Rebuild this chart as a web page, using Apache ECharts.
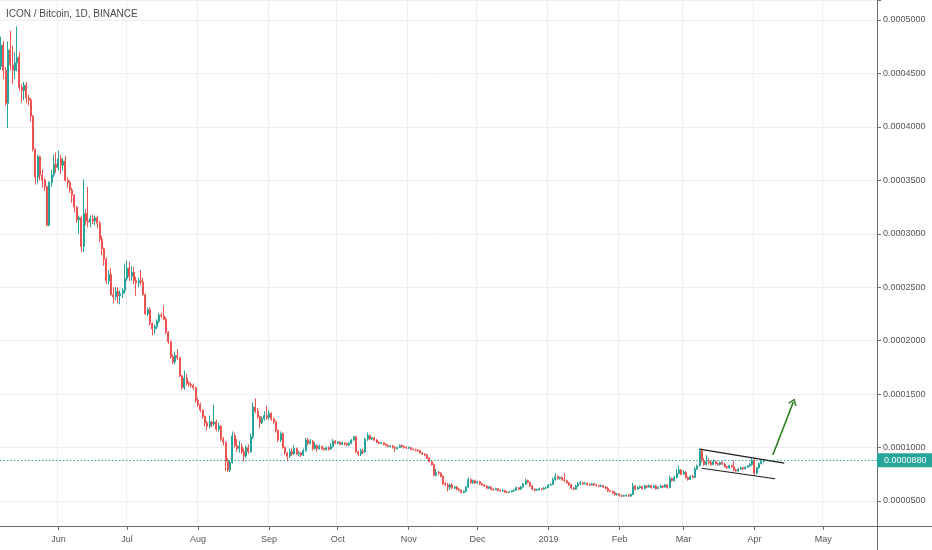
<!DOCTYPE html>
<html><head><meta charset="utf-8">
<script src="https://cdn.jsdelivr.net/npm/echarts@6/dist/echarts.min.js"></script>
<style>html,body{margin:0;padding:0;background:#fff}#c{width:932px;height:550px}</style>
</head><body><div id="c"></div>
<script>
// Prices in units of 0.0000001 BTC
const title = 'ICON / Bitcoin, 1D, BINANCE';
const firstDay = '2018-05-07';
const dayCount = 383; // axis runs to 2019-05-24
const monthNames = ['Jan','Feb','Mar','Apr','May','Jun','Jul','Aug','Sep','Oct','Nov','Dec'];
const open = [
4563,4766,4530,4220,4720,4580,4530,4600,4650,4370,
4340,4390,4270,4250,4100,3790,3530,3720,3550,3500,
3440,3080,3480,3550,3650,3620,3700,3640,3680,3500,
3480,3410,3360,3250,3130,3150,2880,3190,3120,3110,
3140,3120,3150,3100,2950,2860,2760,2560,2620,2430,
2410,2460,2420,2440,2470,2580,2680,2600,2640,2560,
2540,2560,2550,2430,2250,2290,2160,2110,2130,2180,
2240,2230,2200,2080,1990,1850,1800,1860,1840,1670,
1560,1650,1600,1590,1580,1560,1440,1400,1350,1290,
1230,1200,1240,1220,1240,1170,1200,1080,1050,870,
790,860,1110,1020,990,1010,960,920,1000,960,
1100,1380,1340,1290,1230,1270,1300,1280,1320,1270,
1240,1160,1070,1130,1000,950,920,960,940,990,
940,950,930,970,1070,1040,1060,990,1020,990,
1010,990,980,1000,985,1010,1060,1040,1050,1030,
1045,1035,1025,1040,1070,1100,960,940,970,960,
1080,1110,1080,1090,1070,1050,1040,1045,1030,1020,
1010,1015,1000,990,1000,1020,1010,1000,995,1000,
985,980,975,970,950,940,930,900,870,840,
740,770,760,730,660,650,630,650,620,630,
610,600,580,590,630,700,670,690,670,680,
660,650,640,620,630,610,605,615,600,595,
600,585,580,585,595,600,625,610,630,660,
690,675,640,610,600,605,615,610,620,625,
650,655,700,730,710,720,700,690,670,650,
620,610,640,660,670,660,665,655,650,660,
650,645,640,645,630,620,595,590,575,560,
565,550,545,550,555,545,560,640,610,625,
635,615,640,630,645,625,640,615,625,640,
630,650,625,710,690,720,760,790,750,770,
720,700,730,720,800,830,970,880,840,870,
860,840,870,850,840,860,845,820,810,830,
820,790,780,800,810,800,815,825,840,880,
760,810,850,870];
const close = [
4766,4530,4220,4720,4580,4530,4600,4650,4370,4340,
4390,4270,4250,4100,3790,3530,3720,3550,3500,3440,
3080,3480,3550,3650,3620,3700,3640,3680,3500,3480,
3410,3360,3250,3130,3150,2880,3190,3120,3110,3140,
3120,3150,3100,2950,2860,2760,2560,2620,2430,2410,
2460,2420,2440,2470,2580,2680,2600,2640,2560,2540,
2560,2550,2430,2250,2290,2160,2110,2130,2180,2240,
2230,2200,2080,1990,1850,1800,1860,1840,1670,1560,
1650,1600,1590,1580,1560,1440,1400,1350,1290,1230,
1200,1240,1220,1240,1170,1200,1080,1050,870,790,
860,1110,1020,990,1010,960,920,1000,960,1100,
1380,1340,1290,1230,1270,1300,1280,1320,1270,1240,
1160,1070,1130,1000,950,920,960,940,990,940,
950,930,970,1070,1040,1060,990,1020,990,1010,
990,980,1000,985,1010,1060,1040,1050,1030,1045,
1035,1025,1040,1070,1100,960,940,970,960,1080,
1110,1080,1090,1070,1050,1040,1045,1030,1020,1010,
1015,1000,990,1000,1020,1010,1000,995,1000,985,
980,975,970,950,940,930,900,870,840,740,
770,760,730,660,650,630,650,620,630,610,
600,580,590,630,700,670,690,670,680,660,
650,640,620,630,610,605,615,600,595,600,
585,580,585,595,600,625,610,630,660,690,
675,640,610,600,605,615,610,620,625,650,
655,700,730,710,720,700,690,670,650,620,
610,640,660,670,660,665,655,650,660,650,
645,640,645,630,620,595,590,575,560,565,
550,545,550,555,545,560,640,610,625,635,
615,640,630,645,625,640,615,625,640,630,
650,625,710,690,720,760,790,750,770,720,
700,730,720,800,830,970,880,840,870,860,
840,870,850,840,860,845,820,810,830,820,
790,780,800,810,800,815,825,840,880,760,
810,850,870,880];
const low = [
4532,4450,4200,3990,4530,4400,4450,4520,4340,4230,
4250,4220,4200,4050,3770,3460,3470,3500,3430,3400,
3070,3070,3440,3530,3570,3590,3560,3590,3490,3430,
3380,3290,3200,3100,3000,2830,2830,3080,3060,3060,
3090,3080,3050,2920,2800,2700,2530,2530,2420,2350,
2380,2350,2340,2400,2440,2560,2560,2560,2530,2420,
2500,2520,2420,2240,2230,2140,2050,2060,2110,2160,
2210,2190,2060,1970,1830,1780,1780,1820,1660,1540,
1540,1580,1570,1560,1540,1420,1380,1330,1270,1200,
1160,1180,1190,1200,1150,1150,1060,1020,780,770,
770,850,1000,960,950,940,870,900,940,950,
1080,1320,1270,1180,1220,1250,1260,1260,1250,1220,
1140,1050,1050,990,930,870,900,920,930,930,
920,910,920,960,1020,1030,970,980,960,980,
980,970,970,970,980,1000,1030,1030,1020,1020,
1020,1015,1010,1030,1060,950,920,920,940,950,
1060,1070,1070,1060,1040,1030,1030,1020,1010,1000,
1000,990,960,980,995,1000,990,985,985,975,
970,965,960,945,930,920,890,860,830,730,
730,740,720,650,640,590,600,610,610,600,
590,570,570,580,620,660,660,660,660,650,
640,630,610,610,600,595,600,590,585,585,
575,570,575,580,585,595,600,605,625,650,
665,630,600,590,595,600,600,605,615,620,
640,650,690,700,700,690,680,660,640,610,
600,605,630,650,650,655,645,640,645,640,
635,630,630,620,610,585,580,565,550,550,
540,535,540,540,540,540,555,600,605,615,
605,610,620,625,615,620,605,610,620,620,
625,615,620,680,680,710,750,740,745,710,
690,695,710,715,790,820,860,830,830,840,
830,835,840,830,830,835,810,800,800,810,
780,770,770,790,790,795,810,820,830,740,
750,800,840,860];
const high = [
4844,4800,4560,4800,4900,4760,4700,4940,4700,4400,
4420,4420,4300,4270,4110,3800,3740,3730,3600,3520,
3450,3490,3600,3740,3760,3780,3740,3710,3730,3530,
3500,3430,3370,3260,3170,3170,3510,3230,3440,3170,
3180,3170,3170,3120,2980,2870,2780,2660,2680,2500,
2500,2500,2470,2490,2720,2750,2740,2700,2690,2600,
2590,2660,2590,2440,2310,2310,2170,2150,2200,2260,
2260,2330,2220,2090,2000,1870,1900,1920,1850,1680,
1720,1690,1620,1610,1600,1570,1460,1420,1360,1300,
1250,1300,1250,1400,1260,1230,1210,1100,1060,900,
880,1150,1140,1080,1060,1040,990,1020,1030,1130,
1420,1460,1370,1300,1290,1340,1390,1350,1330,1280,
1250,1170,1150,1140,1010,960,990,990,1020,1000,
970,960,990,1090,1090,1080,1070,1050,1030,1030,
1020,1000,1010,1010,1040,1080,1070,1060,1060,1055,
1050,1045,1050,1080,1110,1110,970,990,990,1090,
1140,1120,1100,1100,1080,1060,1055,1050,1040,1030,
1025,1025,1010,1010,1030,1030,1020,1010,1010,1005,
990,990,980,980,960,945,940,910,880,850,
800,780,770,740,680,670,660,670,640,640,
620,610,600,640,720,710,700,700,690,690,
670,660,650,640,640,620,625,620,610,610,
605,590,595,600,610,635,630,640,670,710,
700,680,650,620,615,625,620,630,635,660,
665,720,760,740,730,730,760,700,680,660,
630,650,680,690,680,675,675,665,670,670,
660,650,655,650,640,630,605,600,590,575,
570,560,560,565,565,570,670,650,640,645,
640,650,650,655,650,650,650,640,655,645,
660,660,740,720,735,800,830,800,790,780,
730,740,745,820,840,990,990,900,930,900,
880,890,880,860,870,870,855,830,840,840,
880,800,810,820,820,825,835,855,900,900,
820,860,880,890];
const lastPrice = 880;
// drawn annotations: [dayIndex, price] endpoints
const channelUpper = [[305, 986], [342, 855]];
const channelLower = [[306, 806], [338, 708]];
const arrowLine = [[337, 930], [346, 1429]];

const UNIT = 1e-7;
const dates = [];
{
  const d0 = new Date(firstDay + 'T00:00:00Z');
  for (let i = 0; i < dayCount; i++) {
    const d = new Date(d0.getTime() + i * 86400000);
    dates.push(d.toISOString().slice(0, 10));
  }
}
const candles = open.map((o, i) => [o, close[i], low[i], high[i]]);
const isMonthStart = (idx, val) => dates[idx].slice(8, 10) === '01';
const fmtPrice = v => (v * UNIT).toFixed(7);
const UP = '#26a69a', DOWN = '#ef5350';
const FONT = "'Liberation Sans', Arial, sans-serif";
const chevron = 'path://M0,10 L5,0 L10,10 L8.4,10.8 L5,3.6 L1.6,10.8 Z';
const pt = p => ({ coord: [dates[p[0]], p[1]] });

const chart = echarts.init(document.getElementById('c'), null, { renderer: 'canvas' });
chart.setOption({
  animation: false,
  backgroundColor: '#ffffff',
  title: {
    text: title, left: 6, top: 9, padding: 0,
    textStyle: { fontSize: 10, fontWeight: 'normal', color: '#4a4a4a', fontFamily: FONT }
  },
  grid: { left: 0, right: 55, top: 0, bottom: 24 },
  xAxis: {
    type: 'category', data: dates, boundaryGap: true,
    axisLine: { show: true, lineStyle: { color: '#6a6a6a', width: 1 } },
    axisTick: { show: true, alignWithLabel: true, interval: isMonthStart, length: 4, lineStyle: { color: '#6a6a6a' } },
    axisLabel: {
      interval: isMonthStart, margin: 9, fontSize: 9, color: '#555', fontFamily: FONT,
      formatter: v => { const m = +v.slice(5, 7); return m === 1 ? v.slice(0, 4) : monthNames[m - 1]; }
    },
    splitLine: { show: true, interval: isMonthStart, lineStyle: { color: '#eceef2', width: 1 } }
  },
  yAxis: {
    type: 'value', position: 'right', min: 266, max: 5187, splitNumber: 9, scale: true,
    axisLine: { show: true, lineStyle: { color: '#6a6a6a', width: 1 } },
    axisTick: { show: true, length: 4, lineStyle: { color: '#6a6a6a' } },
    axisLabel: {
      margin: 6, fontSize: 9, color: '#555', fontFamily: FONT,
      formatter: v => (Math.abs(v / 500 - Math.round(v / 500)) < 1e-6 ? fmtPrice(v) : '')
    },
    splitLine: { show: true, lineStyle: { color: '#eceef2', width: 1 } }
  },
  series: [{
    type: 'candlestick',
    data: candles,
    barWidth: 1.5,
    itemStyle: { color: UP, color0: DOWN, borderColor: UP, borderColor0: DOWN, borderWidth: 1 },
    markLine: {
      silent: true, animation: false, symbol: ['none', 'none'], precision: 7,
      data: [
        {
          yAxis: lastPrice,
          lineStyle: { color: UP, type: [1.5, 2], width: 1 },
          label: {
            show: true, position: 'end', distance: 0, formatter: p => fmtPrice(p.value),
            backgroundColor: UP, color: '#fff', fontSize: 9, fontFamily: FONT,
            padding: [3, 7, 2, 7]
          }
        },
        [Object.assign(pt(channelUpper[0]), { lineStyle: { color: '#1e1e1e', width: 1.2, type: 'solid' }, label: { show: false } }), pt(channelUpper[1])],
        [Object.assign(pt(channelLower[0]), { lineStyle: { color: '#1e1e1e', width: 1.2, type: 'solid' }, label: { show: false } }), pt(channelLower[1])],
        [Object.assign(pt(arrowLine[0]), { lineStyle: { color: '#2e7d1f', width: 1.6, type: 'solid' }, label: { show: false } }),
         Object.assign(pt(arrowLine[1]), { symbol: chevron, symbolSize: [9, 7] })]
      ]
    }
  }],
  graphic: [
    { type: 'line', shape: { x1: 877, y1: 526.5, x2: 932, y2: 526.5 }, style: { stroke: '#6a6a6a', lineWidth: 1 }, silent: true },
    { type: 'line', shape: { x1: 877.5, y1: 526, x2: 877.5, y2: 550 }, style: { stroke: '#6a6a6a', lineWidth: 1 }, silent: true }
  ]
});
</script>
</body></html>
